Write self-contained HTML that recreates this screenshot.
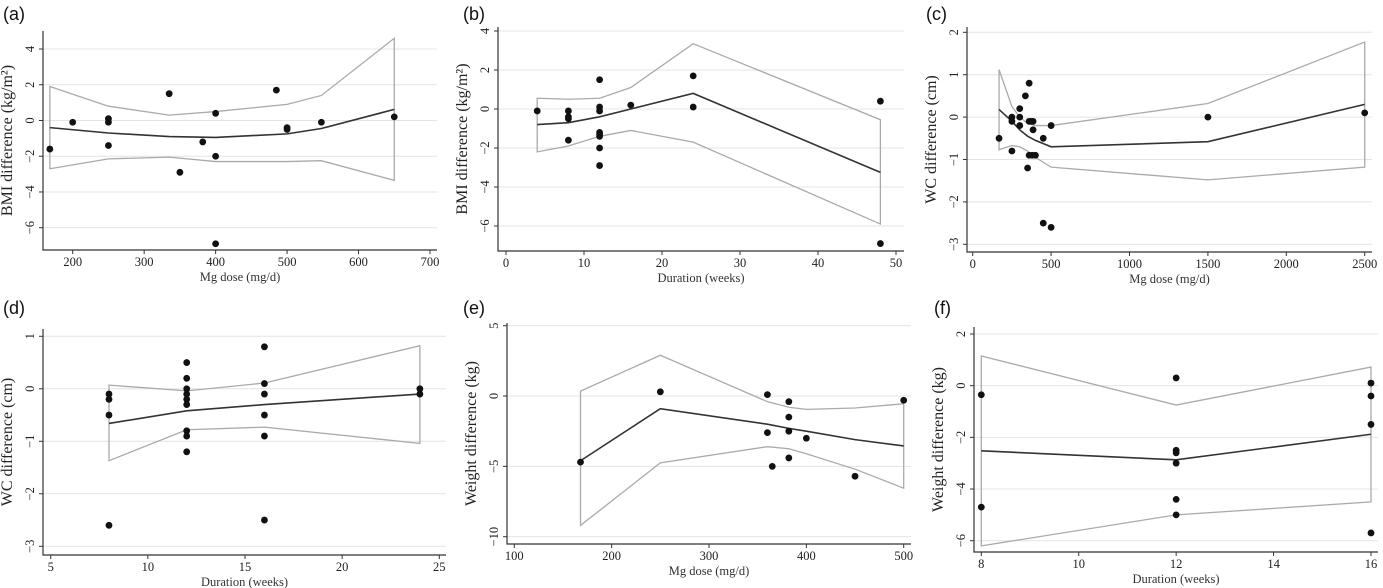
<!DOCTYPE html>
<html><head><meta charset="utf-8"><style>
html,body{margin:0;padding:0;background:#fff;}
svg{display:block;font-family:"Liberation Serif",serif;}
svg text{font-family:"Liberation Serif",serif;}
svg text.pl{font-family:"Liberation Sans",sans-serif;font-size:18px;fill:#111;}
</style></head><body>
<svg id="chart" width="1383" height="588" viewBox="0 0 1383 588"></svg>
<script>
// Panel a: BMI vs Mg dose
const aPtsX=[168,200,250,250,250,335,350,382,400,400,400,485,500,500,548,650];
const aPtsY=[-1.6,-0.1,0.1,-0.1,-1.4,1.5,-2.9,-1.2,0.4,-2.0,-6.9,1.7,-0.4,-0.5,-0.1,0.2];
const aFitX=[168,250,335,400,500,548,650];
const aFit=[-0.4,-0.7,-0.9,-0.95,-0.75,-0.45,0.62];
const aUp=[1.9,0.8,0.3,0.5,0.9,1.4,4.6];
const aLo=[-2.7,-2.15,-2.05,-2.3,-2.3,-2.25,-3.35];
const aXTicks=[200,300,400,500,600,700];
const aYTicks=[4,2,0,-2,-4,-6];
// Panel b: BMI vs duration
const bPtsX=[4,8,8,8,8,12,12,12,12,12,12,12,12,16,24,24,48,48];
const bPtsY=[-0.1,-0.1,-0.4,-0.5,-1.6,1.5,0.1,-0.1,-1.2,-1.3,-1.4,-2.0,-2.9,0.2,1.7,0.1,0.4,-6.9];
const bFitX=[4,8,12,16,24,48];
const bFit=[-0.8,-0.7,-0.4,0,0.8,-3.25];
const bUp=[0.55,0.5,0.55,1.1,3.35,-0.55];
const bLo=[-2.2,-1.9,-1.4,-1.1,-1.7,-5.9];
const bXTicks=[0,10,20,30,40,50];
const bYTicks=[4,2,0,-2,-4,-6];
// Panel c: WC vs Mg dose
const cPtsX=[168,250,250,250,300,300,300,336,350,360,360,360,375,380,385,385,400,450,450,500,500,1500,2500];
const cPtsY=[-0.5,0,-0.1,-0.8,0.2,0,-0.2,0.5,-1.2,0.8,-0.1,-0.9,-0.1,-0.9,-0.1,-0.3,-0.9,-0.5,-2.5,-0.2,-2.6,0,0.1];
const cFitX=[168,250,300,350,400,500,1500,2500];
const cFit=[0.18,-0.1,-0.3,-0.45,-0.55,-0.7,-0.58,0.3];
const cUp=[1.12,0.25,0,-0.15,-0.2,-0.2,0.32,1.77];
const cLo=[-0.77,-0.67,-0.7,-0.8,-0.95,-1.18,-1.48,-1.18];
const cXTicks=[0,500,1000,1500,2000,2500];
const cYTicks=[2,1,0,-1,-2,-3];
// Panel d: WC vs duration
const dPtsX=[8,8,8,8,12,12,12,12,12,12,12,12,12,16,16,16,16,16,16,24,24];
const dPtsY=[-0.1,-0.2,-0.5,-2.6,0.5,0.2,0,-0.1,-0.2,-0.3,-0.8,-0.9,-1.2,0.8,0.1,-0.1,-0.5,-0.9,-2.5,0,-0.1];
const dFitX=[8,12,16,24];
const dFit=[-0.66,-0.42,-0.3,-0.1];
const dUp=[0.07,-0.04,0.11,0.82];
const dLo=[-1.37,-0.78,-0.73,-1.04];
const dXTicks=[5,10,15,20,25];
const dYTicks=[1,0,-1,-2,-3];
// Panel e: weight vs Mg dose
const ePtsX=[168,250,360,360,365,382,382,382,382,400,450,500];
const ePtsY=[-4.7,0.3,0.1,-2.6,-5.0,-0.4,-1.5,-2.5,-4.4,-3.0,-5.7,-0.3];
const eFitX=[168,250,360,382,400,450,500];
const eFit=[-4.6,-0.9,-2.0,-2.3,-2.5,-3.1,-3.55];
const eUp=[0.35,2.9,-0.4,-0.8,-0.95,-0.85,-0.55];
const eLo=[-9.2,-4.75,-3.6,-3.75,-4.1,-5.2,-6.55];
const eXTicks=[100,200,300,400,500];
const eYTicks=[5,0,-5,-10];
// Panel f: weight vs duration
const fPtsX=[8,8,12,12,12,12,12,12,16,16,16,16];
const fPtsY=[-0.35,-4.7,0.3,-2.5,-2.6,-3.0,-4.4,-5.0,0.1,-0.4,-1.5,-5.7];
const fFitX=[8,12,16];
const fFit=[-2.52,-2.87,-1.88];
const fUp=[1.15,-0.75,0.72];
const fLo=[-6.2,-5.0,-4.5];
const fXTicks=[8,10,12,14,16];
const fYTicks=[2,0,-2,-4,-6];

const NS="http://www.w3.org/2000/svg";
const svg=document.getElementById('chart');
const SERIF='"Liberation Serif", serif';
function mk(tag,attrs,parent,text){const e=document.createElementNS(NS,tag);for(const k in attrs)e.setAttribute(k,attrs[k]);if(text!==undefined)e.textContent=text;parent.appendChild(e);return e;}

const panels=[
 {id:'a',lab:'(a)',lx:3,ly:20,xt:'Mg dose (mg/d)',yt:'BMI difference (kg/m\u00B2)',
  x0:200,px0:72.7,x1:700,px1:430,y0:4,py0:49,y1:-6,py1:227.7,left:43,right:437,top:31,bottom:250,
  px:aPtsX,py:aPtsY,fx:aFitX,f:aFit,up:aUp,lo:aLo,xticks:aXTicks,yticks:aYTicks},
 {id:'b',lab:'(b)',lx:463,ly:20,xt:'Duration (weeks)',yt:'BMI difference (kg/m\u00B2)',
  x0:0,px0:506,x1:50,px1:896,y0:4,py0:31,y1:-6,py1:226,left:498,right:904,top:27,bottom:251,
  px:bPtsX,py:bPtsY,fx:bFitX,f:bFit,up:bUp,lo:bLo,xticks:bXTicks,yticks:bYTicks},
 {id:'c',lab:'(c)',lx:926,ly:20,xt:'Mg dose (mg/d)',yt:'WC difference (cm)',
  x0:0,px0:972.7,x1:2500,px1:1364.7,y0:2,py0:32.3,y1:-3,py1:244.3,left:967,right:1372,top:27,bottom:252,
  px:cPtsX,py:cPtsY,fx:cFitX,f:cFit,up:cUp,lo:cLo,xticks:cXTicks,yticks:cYTicks},
 {id:'d',lab:'(d)',lx:3,ly:314,xt:'Duration (weeks)',yt:'WC difference (cm)',
  x0:5,px0:50.7,x1:25,px1:439.3,y0:1,py0:336.3,y1:-3,py1:546.3,left:43,right:446,top:329,bottom:555,
  px:dPtsX,py:dPtsY,fx:dFitX,f:dFit,up:dUp,lo:dLo,xticks:dXTicks,yticks:dYTicks},
 {id:'e',lab:'(e)',lx:463,ly:314,xt:'Mg dose (mg/d)',yt:'Weight difference (kg)',
  x0:100,px0:514.3,x1:500,px1:903.7,y0:5,py0:325.7,y1:-10,py1:536.7,left:507,right:911,top:323,bottom:544,
  px:ePtsX,py:ePtsY,fx:eFitX,f:eFit,up:eUp,lo:eLo,xticks:eXTicks,yticks:eYTicks},
 {id:'f',lab:'(f)',lx:934,ly:314,xt:'Duration (weeks)',yt:'Weight difference (kg)',
  x0:8,px0:981.3,x1:16,px1:1371,y0:2,py0:334,y1:-6,py1:540.7,left:974,right:1378,top:327,bottom:552,
  px:fPtsX,py:fPtsY,fx:fFitX,f:fFit,up:fUp,lo:fLo,xticks:fXTicks,yticks:fYTicks}
];

panels.forEach(p=>{
  const X=v=>p.px0+(v-p.x0)*(p.px1-p.px0)/(p.x1-p.x0);
  const Y=v=>p.py0+(v-p.y0)*(p.py1-p.py0)/(p.y1-p.y0);
  const g=mk('g',{},svg);
  
  
  const pl=mk('text',{x:p.lx,y:p.ly,class:'pl'},g,p.lab);
  
  
  p.yticks.forEach(t=>{
    const y=Y(t);
    const gl=mk('line',{x1:p.left,x2:p.right,y1:y,y2:y,stroke:'#e4e4e4','stroke-width':1},g);
    
    
    mk('line',{x1:p.left-4,x2:p.left,y1:y,y2:y,stroke:'#333','stroke-width':1},g);
    const tl=mk('text',{x:0,y:0,transform:`translate(${p.left-9},${y}) rotate(-90)`,'text-anchor':'middle','font-size':12.5,'font-family':SERIF,fill:'#222'},g,t<0?'\u2212'+Math.abs(t):String(t));
    
    
  });
  p.xticks.forEach(t=>{
    const x=X(t);
    mk('line',{x1:x,x2:x,y1:p.bottom,y2:p.bottom+4,stroke:'#333','stroke-width':1},g);
    const tl=mk('text',{x:x,y:p.bottom+16,'text-anchor':'middle','font-size':12.5,'font-family':SERIF,fill:'#222'},g,String(t));
    
    
  });
  const ax=mk('path',{d:`M${p.left},${p.top}V${p.bottom}H${p.right}`,fill:'none',stroke:'#333','stroke-width':1.2},g);
  
  
  const xt=mk('text',{x:(p.left+p.right)/2,y:p.bottom+31,'text-anchor':'middle','font-size':12.5,'font-family':SERIF,fill:'#333'},g,p.xt);
  
  
  const cy=(p.top+p.bottom)/2;
  const yt=mk('text',{x:0,y:0,transform:`translate(${p.left-31},${cy}) rotate(-90)`,'text-anchor':'middle','font-size':16,'font-family':SERIF,fill:'#222'},g,p.yt);
  
  
  const n=p.fx.length;
  let d='M'+X(p.fx[0])+','+Y(p.up[0]);
  for(let i=1;i<n;i++)d+='L'+X(p.fx[i])+','+Y(p.up[i]);
  for(let i=n-1;i>=0;i--)d+='L'+X(p.fx[i])+','+Y(p.lo[i]);
  d+='Z';
  const band=mk('path',{d:d,fill:'none',stroke:'#aaa','stroke-width':1.3},g);
  
  
  let fd='';
  for(let i=0;i<n;i++)fd+=(i?'L':'M')+X(p.fx[i])+','+Y(p.f[i]);
  const fl=mk('path',{d:fd,fill:'none',stroke:'#333','stroke-width':1.6},g);
  
  
  for(let i=0;i<p.px.length;i++){
    const c=mk('circle',{cx:X(p.px[i]),cy:Y(p.py[i]),r:3.4,fill:'#111'},g);
    
    
  }
});
</script>
</body></html>
